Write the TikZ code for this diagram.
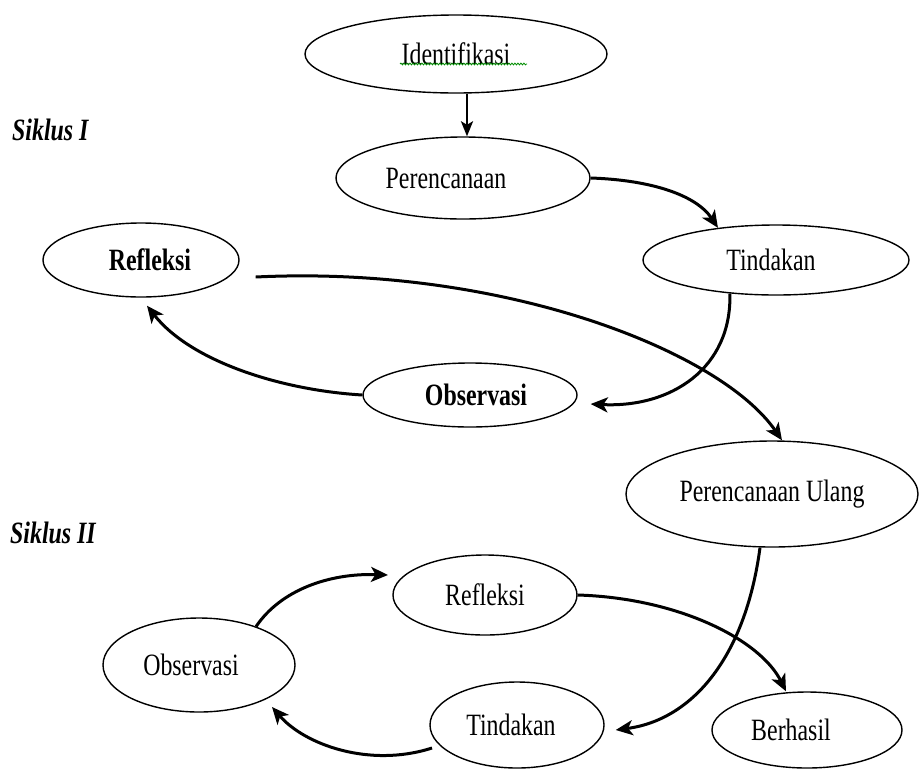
\documentclass[tikz,border=0pt]{standalone}
\usepackage{fontspec}
\setmainfont{Liberation Serif}[FakeStretch=0.77]
\usetikzlibrary{shapes.geometric,arrows.meta,decorations.pathmorphing}
\begin{document}
\begin{tikzpicture}[x=1pt,y=-1pt,
  oval/.style={draw,ellipse,line width=1.4pt,inner sep=0pt,font=\fontsize{31}{32}\selectfont},
  link/.style={line width=3pt,-{Stealth[length=17pt,width=15pt,inset=4.5pt]}},
  cyc/.style={font=\fontsize{31}{32}\selectfont\bfseries\itshape,anchor=base west,inner sep=0pt}]
\useasboundingbox (0,0) rectangle (923,769);
% nodes
\node[oval,minimum width=302pt,minimum height=78pt] (id) at (456,54) {Identifikasi};
\node[oval,minimum width=254pt,minimum height=82pt] (per) at (463,178) {\hspace{-34pt}Perencanaan};
\node[oval,minimum width=266pt,minimum height=70pt] (tind1) at (776,260) {\hspace{-10pt}Tindakan};
\node[oval,minimum width=196pt,minimum height=74pt] (ref1) at (141,260) {\hspace{18pt}\bfseries Refleksi};
\node[oval,minimum width=214pt,minimum height=64pt] (obs1) at (470,395) {\hspace{12pt}\bfseries Observasi};
\node[oval,minimum width=292pt,minimum height=106pt] (pu) at (772,494) {Perencanaan Ulang};
\node[oval,minimum width=184pt,minimum height=80pt] (ref2) at (485,595) {Refleksi};
\node[oval,minimum width=192pt,minimum height=94pt] (obs2) at (199,665) {\hspace{-16pt}Observasi};
\node[oval,minimum width=174pt,minimum height=86pt] (tind2) at (517,725) {\hspace{-12pt}Tindakan};
\node[oval,minimum width=190pt,minimum height=76pt] (ber) at (807,730) {\hspace{-32pt}Berhasil};
\node[cyc] (s1) at (12,140) {Siklus I};
\node[cyc] (s2) at (10,543) {Siklus II};
% spell-check underline
\draw[green!55!black,line width=0.8pt,decorate,decoration={snake,amplitude=0.9pt,segment length=3pt}]
  ([xshift=-56pt,yshift=-10pt]id.center) -- ([xshift=71pt,yshift=-10pt]id.center);
% connectors
\draw[line width=2.4pt,-{Stealth[length=15pt,width=12pt,inset=3.5pt]}] ([xshift=11pt]id.south) -- ([xshift=4pt]per.north);
\draw[link] (per.east) .. controls +(60,2) and +(-22,-33) .. (tind1.151);
\draw[link] (tind1.-144) .. controls +(2,75) and +(80,4) .. ([xshift=13pt,yshift=-9pt]obs1.east);
\draw[link] (obs1.west) .. controls +(-83,-5) and +(43,55) .. ([xshift=6pt,yshift=-8pt]ref1.south);
\draw[link] ([xshift=16pt,yshift=-17pt]ref1.east) .. controls +(245,-12) and +(-62,-90) .. ([xshift=10pt]pu.north);
\draw[link] ([xshift=-12pt]pu.south) .. controls +(-15,112) and +(75,-10) .. ([xshift=11pt,yshift=-5pt]tind2.east);
\draw[link] (ref2.east) .. controls +(100,3) and +(-26,-52) .. ([xshift=-21pt]ber.north);
\draw[link] (obs2.34) .. controls +(25,-37) and +(-58,-2) .. ([xshift=-97pt,yshift=20pt]ref2.center);
\draw[link] ([xshift=-85pt,yshift=-23pt]tind2.center) .. controls +(-62,20) and +(33,38) .. ([xshift=73pt,yshift=-42pt]obs2.center);
\end{tikzpicture}
\end{document}
